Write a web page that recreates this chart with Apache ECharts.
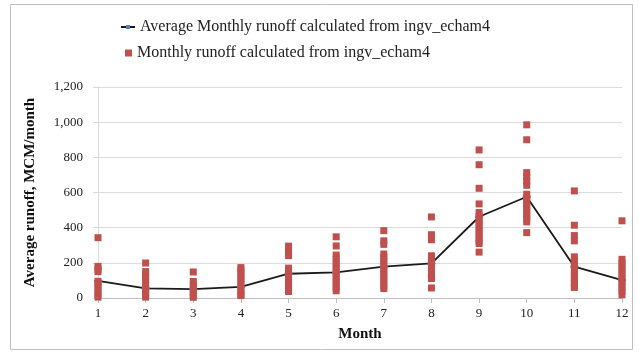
<!DOCTYPE html>
<html>
<head>
<meta charset="utf-8">
<script src="https://cdn.jsdelivr.net/npm/echarts@6/dist/echarts.min.js"></script>
<style>
html,body{margin:0;padding:0;background:#fff;}
#chart{width:639px;height:356px;}
</style>
</head>
<body>
<div id="chart"></div>
<script>
const months = [1,2,3,4,5,6,7,8,9,10,11,12];
const avgRunoff = [98, 55, 50, 63, 138, 146, 178, 197, 462, 576, 178, 102];
const m1 = [343, 180, 165, 150, 95, 80, 60, 40, 20, 5];
const m2 = [199, 150, 135, 115, 95, 75, 55, 35, 20, 5];
const m3 = [148, 94, 75, 55, 35, 18, 4];
const m4 = [173, 158, 140, 120, 100, 80, 60, 40, 20, 14];
const m5 = [295, 275, 258, 241, 170, 150, 130, 110, 90, 70, 50, 37];
const m6 = [348, 296, 244, 222, 200, 180, 160, 140, 120, 100, 80, 60, 41];
const m7 = [383, 325, 305, 250, 230, 210, 190, 170, 150, 130, 110, 90, 70, 54];
const m8 = [461, 360, 331, 240, 220, 200, 180, 160, 140, 120, 111, 57];
const m9 = [842, 758, 624, 535, 486, 465, 445, 425, 405, 385, 365, 345, 325, 310, 261];
const m10 = [985, 900, 713, 690, 665, 641, 590, 570, 550, 530, 510, 490, 470, 450, 433, 372];
const m11 = [609, 414, 355, 325, 234, 212, 190, 170, 150, 130, 110, 90, 70, 60];
const m12 = [439, 220, 200, 180, 160, 140, 120, 100, 80, 60, 40, 18];
const monthlyRunoff = [m1,m2,m3,m4,m5,m6,m7,m8,m9,m10,m11,m12];
const yTicks = [0, 200, 400, 600, 800, 1000, 1200];

const scatterData = [];
monthlyRunoff.forEach((vals, i) => vals.forEach(v => scatterData.push([months[i], v])));
const lineData = months.map((m, i) => [m, avgRunoff[i]]);

const serif = '"Liberation Serif", "DejaVu Serif", serif';
const chart = echarts.init(document.getElementById('chart'));
chart.setOption({
  animation: false,
  backgroundColor: '#fff',
  textStyle: { fontFamily: serif },
  graphic: [{
    type: 'rect',
    shape: { x: 10.5, y: 4.5, width: 622, height: 345 },
    style: { fill: 'none', stroke: '#bfbfbf', lineWidth: 1 },
    silent: true, z: -10
  }],
  grid: { left: 98, top: 87, width: 524, height: 211 },
  legend: [{
    data: ['Average Monthly runoff calculated from ingv_echam4'],
    left: 120, top: 19, padding: 0, itemWidth: 14, itemHeight: 5,
    textStyle: { fontFamily: serif, fontSize: 16, color: '#222' }
  }, {
    data: ['Monthly runoff calculated from ingv_echam4'],
    left: 125, top: 45, padding: 0, itemWidth: 7, itemHeight: 7,
    textStyle: { fontFamily: serif, fontSize: 16, color: '#222' }
  }],
  xAxis: {
    type: 'value', min: 1, max: 12, interval: 1,
    name: 'Month', nameLocation: 'middle', nameGap: 29,
    nameTextStyle: { fontFamily: serif, fontWeight: 'bold', fontSize: 15, color: '#111' },
    axisLine: { show: true, lineStyle: { color: '#bfbfbf' } },
    axisTick: { show: true, length: 5, lineStyle: { color: '#bfbfbf' } },
    axisLabel: { fontFamily: serif, fontSize: 13, color: '#222', margin: 9 },
    splitLine: { show: false }
  },
  yAxis: {
    type: 'value', min: 0, max: 1200, interval: 200,
    name: 'Average runoff, MCM/month', nameLocation: 'middle', nameGap: 60,
    nameTextStyle: { fontFamily: serif, fontWeight: 'bold', fontSize: 15, color: '#111' },
    axisLine: { show: true, lineStyle: { color: '#d9d9d9' } },
    axisTick: { show: true, length: 5, lineStyle: { color: '#d9d9d9' } },
    axisLabel: { fontFamily: serif, fontSize: 13, color: '#222', margin: 15,
      formatter: v => v.toLocaleString('en-US') },
    splitLine: { show: true, lineStyle: { color: '#dcdcdc', width: 1.2 } }
  },
  series: [{
    name: 'Average Monthly runoff calculated from ingv_echam4',
    type: 'line',
    data: lineData,
    symbol: 'rect', symbolSize: [8, 2],
    lineStyle: { color: '#1a1a1a', width: 1.8 },
    itemStyle: { color: '#4F81BD' },
    z: 2
  }, {
    name: 'Monthly runoff calculated from ingv_echam4',
    type: 'scatter',
    data: scatterData,
    symbol: 'rect', symbolSize: 7,
    itemStyle: { color: '#C0504D', opacity: 1 },
    z: 3
  }]
});
</script>
</body>
</html>
